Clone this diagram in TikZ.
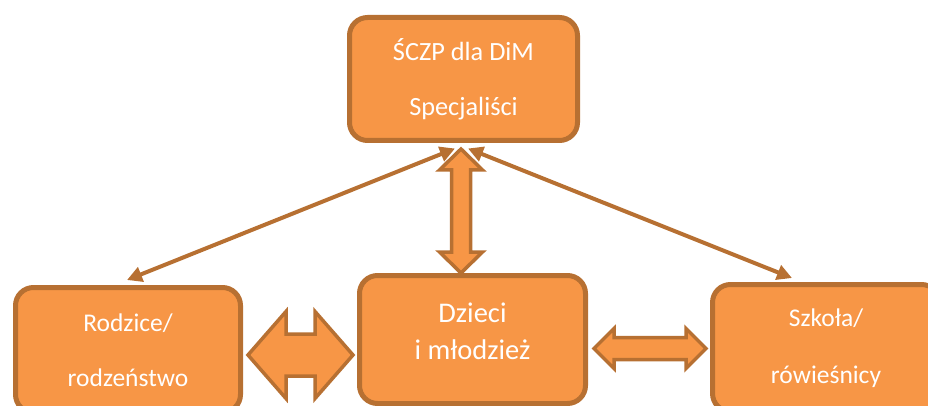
\documentclass[tikz,border=0pt]{standalone}
\usepackage{fontspec}
\setmainfont{Carlito}
\usetikzlibrary{calc,arrows.meta}

\definecolor{boxfill}{RGB}{247,150,70}
\definecolor{boxline}{RGB}{183,112,50}

% horizontal double block arrow between two tips: #1 left tip, #2 right tip,
% #3 head length, #4 half head width, #5 half shaft width
\newcommand\fatH[5]{%
  \draw[fatarrow] (#1) -- ($(#1)+(#3,-#4)$) -- ($(#1)+(#3,-#5)$) -- ($(#2)+(-#3,-#5)$)
    -- ($(#2)+(-#3,-#4)$) -- (#2) -- ($(#2)+(-#3,#4)$) -- ($(#2)+(-#3,#5)$)
    -- ($(#1)+(#3,#5)$) -- ($(#1)+(#3,#4)$) -- cycle;}
% vertical double block arrow: #1 upper tip, #2 lower tip
\newcommand\fatV[5]{%
  \draw[fatarrow] (#1) -- ($(#1)+(-#4,#3)$) -- ($(#1)+(-#5,#3)$) -- ($(#2)+(-#5,-#3)$)
    -- ($(#2)+(-#4,-#3)$) -- (#2) -- ($(#2)+(#4,-#3)$) -- ($(#2)+(#5,-#3)$)
    -- ($(#1)+(#5,#3)$) -- ($(#1)+(#4,#3)$) -- cycle;}

\begin{document}
\begin{tikzpicture}[x=1pt,y=-1pt,
  box/.style={draw=boxline, fill=boxfill, line width=5pt, rounded corners=18pt,
    inner sep=0pt, text=white, align=center},
  fatarrow/.style={draw=boxline, fill=boxfill, line width=3.5pt, line join=miter},
  thinlink/.style={draw=boxline, line width=4pt,
    {Triangle[length=15pt,width=15pt]}-{Triangle[length=15pt,width=15pt]}},
  bigtxt/.style={text=white, align=center, font=\fontsize{28.5}{37}\selectfont}]
\useasboundingbox (0,0) rectangle (928,406);
\clip (0,0) rectangle (928,406);

% boxes
\node[box, minimum width=228pt, minimum height=123pt,
  font=\fontsize{26.3}{55}\selectfont] (top) at (463.5,79) {ŚCZP dla DiM\\Specjaliści};
\node[box, minimum width=225pt, minimum height=125pt,
  font=\fontsize{25.5}{55}\selectfont] (rod) at (128,350) {Rodzice/\\rodzeństwo};
\node[box, minimum width=226pt, minimum height=128pt] (dzi) at (472.5,339.5) {};
\node[bigtxt] (dzitxt) at ($(dzi.center)+(0,-8)$) {Dzieci\\i młodzież};
\node[box, minimum width=227pt, minimum height=127pt,
  font=\fontsize{25.5}{57}\selectfont] (szk) at (826,348) {Szkoła/\\rówieśnicy};

% thin two-way links from the specialists
\draw[thinlink] ($(top.south)+(-8.5,5.5)$) -- ($(rod.north)+(-1,-5)$);
\draw[thinlink] ($(top.south)+(4.5,5.5)$) -- ($(szk.north)+(-34,-4)$);

% block arrows
\coordinate (vt) at ($(top.south)+(-2.5,6)$);
\coordinate (vb) at ($(dzi.north)+(-11.5,0)$);
\fatV{vt}{vb}{21}{21.5}{9.5}

\coordinate (ll) at ($(rod.east)+(5,5)$);
\coordinate (lr) at ($(dzi.west)+(-4,15.5)$);
\fatH{ll}{lr}{38}{43.5}{21}

\coordinate (rl) at ($(dzi.east)+(6,9)$);
\coordinate (rr) at ($(szk.west)+(-4,0.5)$);
\fatH{rl}{rr}{20}{20}{11}
\end{tikzpicture}
\end{document}
